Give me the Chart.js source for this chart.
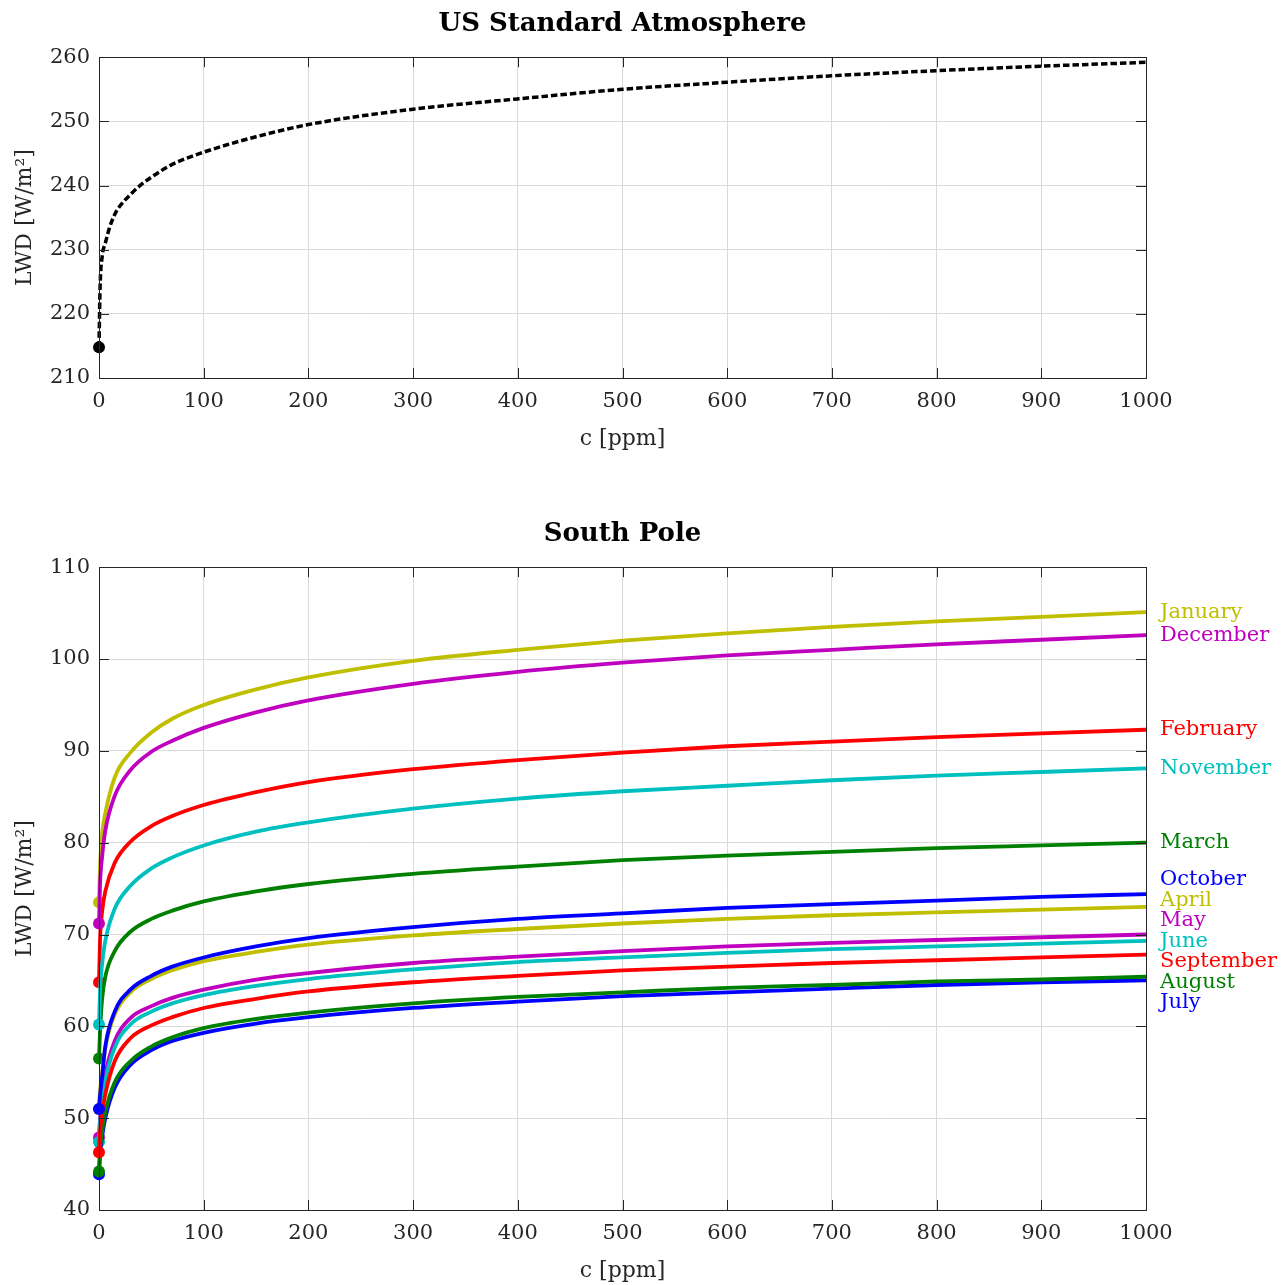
<!DOCTYPE html>
<html>
<head>
<meta charset="utf-8">
<title>LWD vs CO2</title>
<script src="https://cdn.jsdelivr.net/npm/chart.js@4/dist/chart.umd.min.js"></script>
<style>
  body { margin: 0; background: #fff; }
  canvas { display: block; }
</style>
</head>
<body>
<canvas id="us-chart" width="1288" height="470"></canvas>
<canvas id="pole-chart" width="1288" height="815"></canvas>
<script>
// c in ppm, LWD in W/m2
const usC = [0, 1, 3, 6, 10, 15, 20, 30, 40, 50, 70, 100, 150, 200, 300, 400, 500, 600, 700, 800, 900, 1000];
const usLwd = [214.8, 224, 228.9, 231.0, 233.4, 235.5, 236.8, 238.6, 240.1, 241.3, 243.3, 245.2, 247.6, 249.5, 251.9, 253.5, 255.0, 256.1, 257.1, 257.9, 258.6, 259.2];

const poleC = [0, 1, 3, 6, 15, 30, 50, 70, 100, 150, 200, 300, 400, 500, 600, 700, 800, 900, 1000];
const january   = [73.5, 77.5, 81.0, 83.2, 87.1, 89.8, 92.0, 93.5, 95.0, 96.7, 98.0, 99.8, 101.0, 102.0, 102.8, 103.5, 104.1, 104.6, 105.1];
const february  = [64.8, 69.5, 72.5, 74.7, 77.8, 80.1, 81.8, 82.9, 84.1, 85.5, 86.6, 88.0, 89.0, 89.8, 90.5, 91.0, 91.5, 91.9, 92.3];
const march     = [56.5, 59.5, 63.0, 65.4, 68.2, 70.3, 71.7, 72.6, 73.6, 74.7, 75.5, 76.6, 77.4, 78.1, 78.6, 79.0, 79.4, 79.7, 80.0];
const april     = [51.0, 53.0, 55.0, 57.6, 61.3, 63.7, 65.15, 66.1, 67.1, 68.1, 68.9, 69.9, 70.6, 71.2, 71.7, 72.1, 72.4, 72.7, 73.0];
const may       = [47.9, 50.0, 52.0, 54.7, 58.4, 60.9, 62.2, 63.1, 64.0, 65.1, 65.8, 66.9, 67.6, 68.2, 68.7, 69.1, 69.4, 69.7, 70.0];
const june      = [47.4, 49.5, 51.5, 54.0, 57.7, 60.2, 61.6, 62.5, 63.4, 64.4, 65.15, 66.2, 67.0, 67.5, 68.0, 68.4, 68.7, 69.0, 69.3];
const july      = [43.9, 46.0, 48.0, 50.0, 53.3, 55.8, 57.4, 58.4, 59.3, 60.3, 61.0, 62.0, 62.7, 63.3, 63.7, 64.1, 64.5, 64.8, 65.0];
const august    = [44.2, 46.5, 48.5, 50.6, 53.9, 56.2, 57.8, 58.8, 59.8, 60.8, 61.5, 62.5, 63.2, 63.7, 64.2, 64.5, 64.9, 65.1, 65.4];
const september = [46.3, 48.5, 50.5, 52.6, 56.2, 58.7, 60.1, 61.0, 62.0, 63.0, 63.8, 64.8, 65.5, 66.1, 66.5, 66.9, 67.2, 67.5, 67.8];
const october   = [51.0, 52.5, 54.5, 57.8, 61.6, 64.0, 65.5, 66.5, 67.5, 68.7, 69.6, 70.8, 71.7, 72.3, 72.9, 73.3, 73.7, 74.1, 74.4];
const november  = [60.2, 64.0, 66.8, 69.3, 72.8, 75.3, 77.2, 78.4, 79.7, 81.2, 82.2, 83.7, 84.8, 85.6, 86.2, 86.8, 87.3, 87.7, 88.1];
const december  = [71.2, 75.5, 78.5, 81.3, 85.1, 87.9, 89.9, 91.1, 92.5, 94.2, 95.5, 97.3, 98.6, 99.6, 100.4, 101.0, 101.6, 102.1, 102.6];

const monthNames = ["January", "February", "March", "April", "May", "June",
  "July", "August", "September", "October", "November", "December"];
const monthValues = [january, february, march, april, may, june,
  july, august, september, october, november, december];
const monthColors = ["#bfbf00", "#ff0000", "#008000", "#bfbf00", "#bf00bf", "#00bfbf",
  "#0000ff", "#008000", "#ff0000", "#0000ff", "#00bfbf", "#bf00bf"];

const xTicks = [0, 100, 200, 300, 400, 500, 600, 700, 800, 900, 1000];

Chart.defaults.font.family = "'DejaVu Serif', serif";
Chart.defaults.font.size = 21;
Chart.defaults.color = "#262626";

const axisColor = "#262626";
const gridColor = "#d9d9d9";

// MATLAB style box with inward ticks on all four sides
const boxPlugin = {
  id: "box",
  afterDatasetsDraw(chart) {
    const {ctx, chartArea: a, scales: {x, y}} = chart;
    const len = 10;
    ctx.save();
    ctx.strokeStyle = axisColor;
    ctx.lineWidth = 1;
    ctx.beginPath();
    x.ticks.forEach(t => {
      const px = Math.round(x.getPixelForValue(t.value)) + 0.5;
      ctx.moveTo(px, a.bottom); ctx.lineTo(px, a.bottom - len);
      ctx.moveTo(px, a.top); ctx.lineTo(px, a.top + len);
    });
    y.ticks.forEach(t => {
      const py = Math.round(y.getPixelForValue(t.value)) + 0.5;
      ctx.moveTo(a.left, py); ctx.lineTo(a.left + len, py);
      ctx.moveTo(a.right, py); ctx.lineTo(a.right - len, py);
    });
    ctx.stroke();
    ctx.strokeRect(Math.round(a.left) + 0.5, Math.round(a.top) + 0.5,
      Math.round(a.width), Math.round(a.height));
    ctx.restore();
  }
};

// month names at the right end of each curve, spread so they don't overlap
const endLabels = {
  id: "endLabels",
  afterDatasetsDraw(chart) {
    const {ctx, chartArea: a, scales: {y}} = chart;
    const gap = 20.5;
    const items = chart.data.datasets.map(ds => ({
      text: ds.label,
      color: ds.borderColor,
      y: y.getPixelForValue(ds.data[ds.data.length - 1].y)
    })).sort((p, q) => p.y - q.y);

    let groups = items.map(it => ({members: [it], center: it.y}));
    let merged = true;
    while (merged) {
      merged = false;
      for (let i = 0; i < groups.length - 1; i++) {
        const g1 = groups[i], g2 = groups[i + 1];
        const end1 = g1.center + (g1.members.length - 1) * gap / 2;
        const start2 = g2.center - (g2.members.length - 1) * gap / 2;
        if (start2 - end1 < gap) {
          const members = g1.members.concat(g2.members);
          const center = members.reduce((s, m) => s + m.y, 0) / members.length;
          groups.splice(i, 2, {members, center});
          merged = true;
          break;
        }
      }
    }

    ctx.save();
    ctx.font = "21px 'DejaVu Serif', serif";
    ctx.textAlign = "left";
    ctx.textBaseline = "middle";
    groups.forEach(g => {
      const first = g.center - (g.members.length - 1) * gap / 2;
      g.members.forEach((m, k) => {
        ctx.fillStyle = m.color;
        ctx.fillText(m.text, a.right + 14, first + k * gap);
      });
    });
    ctx.restore();
  }
};

function makeOptions(title, yMin, yMax, titlePad, xHeight, xTitlePad) {
  return {
    responsive: false,
    animation: false,
    events: [],
    layout: {padding: {left: 0, right: 142, top: 0, bottom: 0}},
    plugins: {
      legend: {display: false},
      tooltip: {enabled: false},
      title: {
        display: true,
        text: title,
        fullSize: false,
        color: "#000",
        font: {size: 26, weight: "bold"},
        padding: titlePad
      }
    },
    scales: {
      x: {
        type: "linear",
        min: 0,
        max: 1000,
        afterBuildTicks: s => { s.ticks = xTicks.map(v => ({value: v})); },
        afterFit: s => { s.height = xHeight; },
        ticks: {padding: 11, maxRotation: 0, autoSkip: false, callback: v => String(v)},
        grid: {color: gridColor, drawTicks: false},
        border: {display: false},
        title: {display: true, text: "c [ppm]", font: {size: 22}, padding: {top: 0, bottom: xTitlePad}}
      },
      y: {
        min: yMin,
        max: yMax,
        afterFit: s => { s.width = 99; },
        ticks: {stepSize: 10, padding: 9},
        grid: {color: gridColor, drawTicks: false},
        border: {display: false},
        title: {display: true, text: "LWD [W/m²]", font: {size: 22}, padding: {top: 12, bottom: 0}}
      }
    }
  };
}

const dotAtStart = ctx => ctx.dataIndex === 0 ? 6 : 0;

new Chart(document.getElementById("us-chart"), {
  type: "line",
  data: {
    datasets: [{
      label: "US Standard Atmosphere",
      data: usC.map((c, i) => ({x: c, y: usLwd[i]})),
      borderColor: "#000",
      backgroundColor: "#000",
      borderWidth: 3.5,
      borderDash: [6.5, 3],
      cubicInterpolationMode: "monotone",
      pointRadius: dotAtStart,
      pointBorderWidth: 0,
      pointBackgroundColor: "#000",
      clip: false
    }]
  },
  options: makeOptions("US Standard Atmosphere", 210, 260, {top: 9, bottom: 17}, 92, 18),
  plugins: [boxPlugin]
});

new Chart(document.getElementById("pole-chart"), {
  type: "line",
  data: {
    datasets: monthNames.map((name, m) => ({
      label: name,
      data: poleC.map((c, i) => ({x: c, y: monthValues[m][i]})),
      borderColor: monthColors[m],
      backgroundColor: monthColors[m],
      borderWidth: 3.8,
      cubicInterpolationMode: "monotone",
      pointRadius: dotAtStart,
      pointBorderWidth: 0,
      pointBackgroundColor: monthColors[m],
      order: -m,
      clip: false
    }))
  },
  options: makeOptions("South Pole", 40, 110, {top: 49, bottom: 17}, 75, 1),
  plugins: [boxPlugin, endLabels]
});
</script>
</body>
</html>
